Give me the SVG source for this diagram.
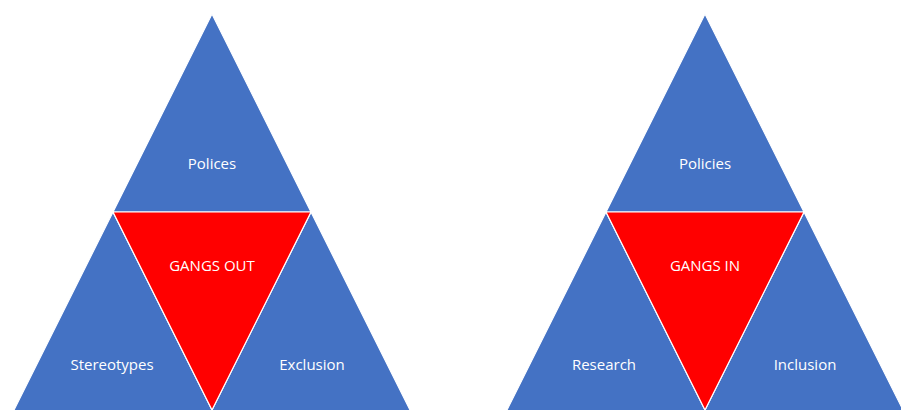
<svg xmlns="http://www.w3.org/2000/svg" width="901" height="410" viewBox="0 0 901 410">
<style>
.b{fill:#4472C4;stroke:#fff;stroke-width:1.2;stroke-linejoin:miter}
.r{fill:#FF0000;stroke:#fff;stroke-width:1.2}
.t{font-family:"Open Sans","Liberation Sans",sans-serif;font-size:15px;fill:#fff;text-anchor:middle}
</style>
<rect width="901" height="410" fill="#fff"/>
<g id="left-top"><polygon class="b" points="212,14 311,212 113,212"/><text class="t" x="212" y="169">Polices</text></g>
<g id="left-left"><polygon class="b" points="113,212 212.5,411 13.5,411"/><text class="t" x="112" y="370">Stereotypes</text></g>
<g id="left-right"><polygon class="b" points="311,212 410.5,411 211.5,411"/><text class="t" x="312" y="370">Exclusion</text></g>
<g id="left-center"><polygon class="r" points="113,212 311,212 212,410"/><text class="t" x="212" y="271">GANGS OUT</text></g>
<g id="right-top"><polygon class="b" points="705,14 804,212 606,212"/><text class="t" x="705" y="169">Policies</text></g>
<g id="right-left"><polygon class="b" points="606,212 705.5,411 506.5,411"/><text class="t" x="604" y="370">Research</text></g>
<g id="right-right"><polygon class="b" points="804,212 903.5,411 704.5,411"/><text class="t" x="805" y="370">Inclusion</text></g>
<g id="right-center"><polygon class="r" points="606,212 804,212 705,410"/><text class="t" x="705" y="271">GANGS IN</text></g>
<g id="connectors"></g>
</svg>
